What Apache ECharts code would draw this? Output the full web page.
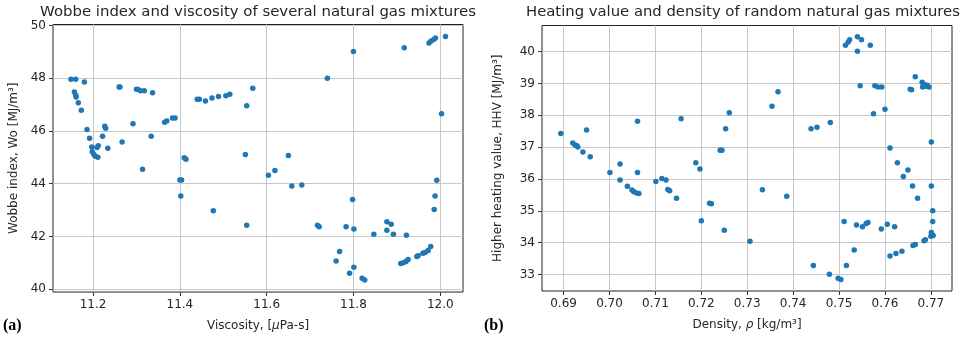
<!DOCTYPE html>
<html>
<head>
<meta charset="utf-8">
<script src="https://cdn.jsdelivr.net/npm/echarts@6/dist/echarts.min.js"></script>
<style>
  html, body { margin: 0; padding: 0; background: #fff; }
  #main { width: 969px; height: 342px; }
</style>
</head>
<body>
<div id="main"></div>
<script>
// panel (a): viscosity [uPa-s] vs Wobbe index [MJ/m3]
const viscosity = [
  11.149, 11.160, 11.180, 11.157, 11.160, 11.161, 11.166, 11.173, 11.186, 11.192,
  11.197, 11.198, 11.202, 11.205, 11.209, 11.212, 11.211, 11.222, 11.227, 11.229,
  11.234, 11.260, 11.262, 11.267, 11.292, 11.300, 11.304, 11.309, 11.318, 11.314,
  11.334, 11.337, 11.365, 11.370, 11.383, 11.389, 11.400, 11.404, 11.402, 11.410,
  11.414, 11.440, 11.445, 11.459, 11.474, 11.489, 11.506, 11.515, 11.568, 11.554,
  11.551, 11.477, 11.554, 11.604, 11.619, 11.650, 11.658, 11.681, 11.717, 11.721,
  11.740, 11.800, 11.917, 11.974, 11.979, 11.985, 11.989, 12.012, 12.003, 11.992,
  11.988, 11.986, 11.798, 11.783, 11.801, 11.847, 11.877, 11.887, 11.877, 11.892,
  11.922, 11.768, 11.760, 11.791, 11.801, 11.820, 11.826, 11.909, 11.915, 11.921,
  11.926, 11.946, 11.949, 11.960, 11.965, 11.972, 11.978
];
const wobbe = [
  47.96, 47.96, 47.86, 47.48, 47.36, 47.29, 47.07, 46.79, 46.06, 45.72,
  45.39, 45.21, 45.11, 45.04, 45.37, 45.44, 45.00, 45.80, 46.18, 46.10,
  45.34, 47.67, 47.67, 45.58, 46.27, 47.58, 47.57, 47.53, 47.53, 44.55,
  45.80, 47.45, 46.33, 46.38, 46.49, 46.49, 44.14, 44.14, 43.53, 44.98,
  44.93, 47.20, 47.20, 47.14, 47.25, 47.31, 47.34, 47.39, 47.62, 46.96,
  45.11, 42.97, 42.42, 44.32, 44.50, 45.07, 43.91, 43.95, 42.42, 42.37,
  48.00, 49.02, 49.16, 49.34, 49.41, 49.47, 49.53, 49.58, 46.65, 44.13,
  43.53, 43.02, 43.40, 42.37, 42.28, 42.08, 42.56, 42.46, 42.23, 42.08,
  42.04, 41.43, 41.07, 40.60, 40.83, 40.41, 40.35, 40.97, 41.00, 41.05,
  41.12, 41.24, 41.27, 41.36, 41.39, 41.46, 41.62
];

// panel (b): density [kg/m3] vs higher heating value [MJ/m3]
const density = [
  0.6894, 0.6920, 0.6925, 0.6929, 0.6931, 0.6942, 0.6950, 0.6958, 0.7001, 0.7023,
  0.7023, 0.7039, 0.7049, 0.7053, 0.7059, 0.7064, 0.7061, 0.7061, 0.7101, 0.7114,
  0.7123, 0.7127, 0.7131, 0.7146, 0.7156, 0.7188, 0.7197, 0.7200, 0.7218, 0.7222,
  0.7241, 0.7245, 0.7253, 0.7261, 0.7250, 0.7306, 0.7333, 0.7354, 0.7367, 0.7386,
  0.7439, 0.7452, 0.7444, 0.7481, 0.7479, 0.7498, 0.7504, 0.7516, 0.7533, 0.7511,
  0.7538, 0.7551, 0.7559, 0.7563, 0.7592, 0.7605, 0.7621, 0.7514, 0.7520, 0.7523,
  0.7540, 0.7549, 0.7540, 0.7568, 0.7546, 0.7578, 0.7585, 0.7593, 0.7575, 0.7600,
  0.7611, 0.7627, 0.7650, 0.7640, 0.7660, 0.7671, 0.7655, 0.7658, 0.7666, 0.7681,
  0.7685, 0.7689, 0.7692, 0.7696, 0.7682, 0.7701, 0.7701, 0.7704, 0.7704, 0.7701,
  0.7700, 0.7705, 0.7685, 0.7688, 0.7661, 0.7666, 0.7637, 0.7624, 0.7611
];
const hhv = [
  37.43, 37.13, 37.07, 37.04, 37.00, 36.85, 37.54, 36.70, 36.20, 36.47,
  35.97, 35.77, 35.65, 35.60, 35.56, 35.54, 36.20, 37.81, 35.92, 36.01,
  35.97, 35.67, 35.63, 35.39, 37.89, 36.51, 36.31, 34.69, 35.24, 35.22,
  36.90, 36.90, 37.58, 38.08, 34.39, 34.04, 35.66, 38.28, 38.74, 35.46,
  37.58, 37.62, 33.28, 37.77, 33.01, 32.88, 32.84, 33.28, 33.77, 34.66,
  34.55, 34.50, 34.60, 34.63, 34.43, 34.58, 34.50, 40.20, 40.30, 40.37,
  40.47, 40.37, 40.01, 40.20, 38.93, 38.93, 38.89, 38.89, 38.05, 38.19,
  36.97, 36.51, 36.28, 36.08, 35.78, 35.39, 38.82, 38.80, 39.21, 39.04,
  38.97, 38.91, 38.94, 38.89, 38.89, 37.16, 35.78, 35.00, 34.66, 34.32,
  34.20, 34.22, 34.06, 34.09, 33.91, 33.94, 33.73, 33.66, 33.58
];

// tick values
const viscTicks = [11.2, 11.4, 11.6, 11.8, 12.0];
const wobbeTicks = [40, 42, 44, 46, 48, 50];
const densTicks = [0.69, 0.70, 0.71, 0.72, 0.73, 0.74, 0.75, 0.76, 0.77];
const hhvTicks = [33, 34, 35, 36, 37, 38, 39, 40];

const font = 'DejaVu Sans';
const txt = '#262626';
const gridColor = '#c8c8c8';

function pairs(xs, ys) {
  return xs.map((x, i) => [x, ys[i]]);
}

function valAxis(idx, min, max, ticks, digits, name, nameGap, rich) {
  return {
    type: 'value',
    gridIndex: idx,
    min: min,
    max: max,
    name: name,
    nameLocation: 'middle',
    nameGap: nameGap,
    nameTextStyle: { fontFamily: font, fontSize: 12, color: txt, rich: rich },
    axisLine: { show: false },
    axisTick: { show: true, length: 4, lineStyle: { color: '#333' }, customValues: ticks },
    axisLabel: {
      fontFamily: font, fontSize: 12, color: txt, margin: 7,
      customValues: ticks,
      formatter: v => v.toFixed(digits)
    },
    splitLine: { show: true, lineStyle: { color: gridColor, width: 1 } }
  };
}

const italic = { i: { fontFamily: font, fontSize: 12, color: txt, fontStyle: 'italic' } };

let myChart = echarts.init(document.getElementById('main'));
myChart.setOption({
  animation: false,
  backgroundColor: '#fff',
  grid: [
    { left: 53, top: 24.5, width: 410, height: 267.5, show: true, borderColor: '#222', borderWidth: 1, backgroundColor: 'transparent' },
    { left: 542, top: 25.5, width: 410, height: 265.5, show: true, borderColor: '#222', borderWidth: 1, backgroundColor: 'transparent' }
  ],
  xAxis: [
    valAxis(0, 11.1077, 12.0524, viscTicks, 1, 'Viscosity, [{i|μ}Pa-s]', 28, italic),
    valAxis(1, 0.6853, 0.7746, densTicks, 2, 'Density, {i|ρ} [kg/m³]', 28, italic)
  ],
  yAxis: [
    valAxis(0, 39.89, 50.04, wobbeTicks, 0, 'Wobbe index, Wo [MJ/m³]', 33),
    valAxis(1, 32.48, 40.82, hhvTicks, 0, 'Higher heating value, HHV [MJ/m³]', 38)
  ],
  series: [
    {
      type: 'scatter', xAxisIndex: 0, yAxisIndex: 0,
      symbolSize: 5.5, itemStyle: { color: '#1f77b4', opacity: 1 },
      data: pairs(viscosity, wobbe)
    },
    {
      type: 'scatter', xAxisIndex: 1, yAxisIndex: 1,
      symbolSize: 5.5, itemStyle: { color: '#1f77b4', opacity: 1 },
      data: pairs(density, hhv)
    }
  ],
  graphic: [
    { type: 'text', x: 258, y: 12.5, style: { text: 'Wobbe index and viscosity of several natural gas mixtures', font: '14.9px "DejaVu Sans"', fill: txt, align: 'center', verticalAlign: 'middle' } },
    { type: 'text', x: 743, y: 12.5, style: { text: 'Heating value and density of random natural gas mixtures', font: '14.8px "DejaVu Sans"', fill: txt, align: 'center', verticalAlign: 'middle' } },
    { type: 'text', x: 3, y: 326, style: { text: '(a)', font: 'bold 16px "Liberation Serif"', fill: '#000', align: 'left', verticalAlign: 'middle' } },
    { type: 'text', x: 484, y: 326, style: { text: '(b)', font: 'bold 16px "Liberation Serif"', fill: '#000', align: 'left', verticalAlign: 'middle' } }
  ]
});

window.addEventListener('resize', () => {
  myChart.resize();
});
</script>
</body>
</html>
